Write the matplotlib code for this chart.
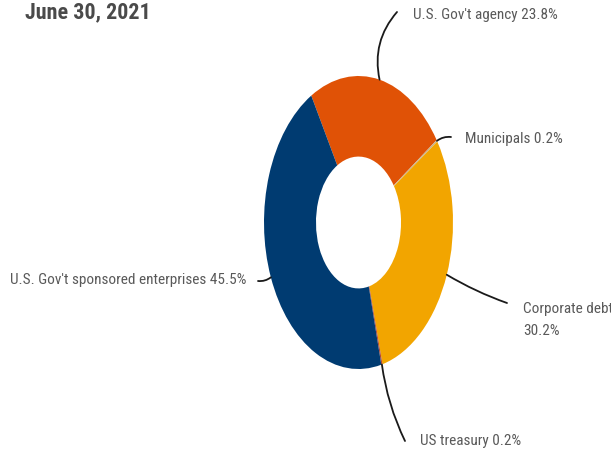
import matplotlib
matplotlib.use("Agg")
import matplotlib.pyplot as plt
import numpy as np

# holdings mix as of the report date
categories = ["U.S. Gov't agency", "Municipals", "Corporate debt", "US treasury",
              "U.S. Gov't sponsored enterprises"]
shares = [23.8, 0.2, 30.2, 0.2, 45.5]
colors = ["#E05206", "#C9B48E", "#F2A500", "#B4452F", "#003B71"]
title = "June 30, 2021"

W, H = 611, 454
fig = plt.figure(figsize=(W / 100, H / 100), dpi=100)

# donut box in pixels (left, top, right, bottom)
L, T, R, B = 264, 76, 453, 369
ax = fig.add_axes([L / W, 1 - B / H, (R - L) / W, (B - T) / H])
wedges, _ = ax.pie(shares, colors=colors, startangle=120, counterclock=False,
                   radius=1, wedgeprops=dict(width=0.55, edgecolor="none"))
ax.set_aspect("auto")
ax.set_xlim(-1, 1)
ax.set_ylim(-1, 1)
ax.axis("off")

FONT = ["Roboto Condensed", "DejaVu Sans"]
lab_font = dict(family=FONT, size=11, color="#595959")

# (label text, text position px, line end px, ha, connection curvature)
labels = [
    (f"{categories[0]} {shares[0]}%", (413, 15), (397, 12), "left", 0.25),
    (f"{categories[1]} {shares[1]}%", (465, 139), (451, 137), "left", 0.2),
    (f"{categories[2]}\n{shares[2]}%", (523, 320), (507, 303), "left", -0.05),
    (f"{categories[3]} {shares[3]}%", (420, 441), (405, 441), "left", -0.08),
    (f"{categories[4]} {shares[4]}%", (246, 280), (258, 281), "right", 0.2),
]

for w, (txt, tpos, lend, ha, rad) in zip(wedges, labels):
    mid = np.deg2rad((w.theta1 + w.theta2) / 2)
    anchor = (np.cos(mid), np.sin(mid))
    ax.annotate("", xy=anchor, xycoords="data",
                xytext=(lend[0], H - lend[1]), textcoords="figure pixels",
                arrowprops=dict(arrowstyle="-", color="#1a1a1a", lw=1.3,
                                shrinkA=0, shrinkB=0,
                                connectionstyle=f"arc3,rad={rad}"),
                annotation_clip=False)
    fig.text(tpos[0] / W, 1 - tpos[1] / H, txt, ha=ha, va="center",
             linespacing=1.7, **lab_font)

fig.text(25 / W, 1 - 18 / H, title, ha="left", va="baseline",
         family=FONT, weight="bold", size=15.8, color="#4a4a4a")

fig.savefig("out.png", dpi=100)
